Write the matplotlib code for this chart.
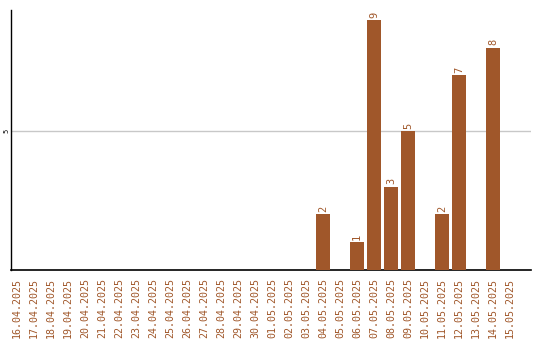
import matplotlib
matplotlib.use("Agg")
import matplotlib.pyplot as plt
import pandas as pd

dates = [d.strftime("%d.%m.%Y") for d in pd.date_range("2025-04-16", "2025-05-15")]
counts = [0]*18 + [2, 0, 1, 9, 3, 5, 0, 2, 7, 0, 8, 0]

color = "#A0572A"
fig = plt.figure(figsize=(5.4, 3.4), dpi=100)
ax = fig.add_axes([11/540, 1-270/340, 520/540, 260/340])
x = list(range(len(dates)))
bars = ax.bar(x, counts, width=0.82, color=color, zorder=3)
for xi, v in zip(x, counts):
    if v > 0:
        ax.text(xi, v + 0.08, str(v), rotation=90, ha="center", va="bottom",
                color=color, family="DejaVu Sans Mono", fontsize=7.5)
ax.set_xlim(-0.35, 30.24)
ax.set_ylim(0, 9.35)
ax.set_yticks([5])
ax.set_yticklabels(["5"], rotation=90, va="center", family="DejaVu Sans Mono", fontsize=5)
ax.axhline(5, color="#c8c8c8", lw=1, zorder=1)
ax.set_xticks(x)
ax.set_xticklabels(dates, rotation=90, color=color, family="DejaVu Sans Mono", fontsize=7.2)
ax.tick_params(axis="x", length=0, pad=6)
ax.tick_params(axis="y", length=0, pad=1)
for s in ["top", "right"]:
    ax.spines[s].set_visible(False)
ax.spines["left"].set_linewidth(1)
ax.spines["bottom"].set_linewidth(1.2)
fig.savefig("out.png", dpi=100)
